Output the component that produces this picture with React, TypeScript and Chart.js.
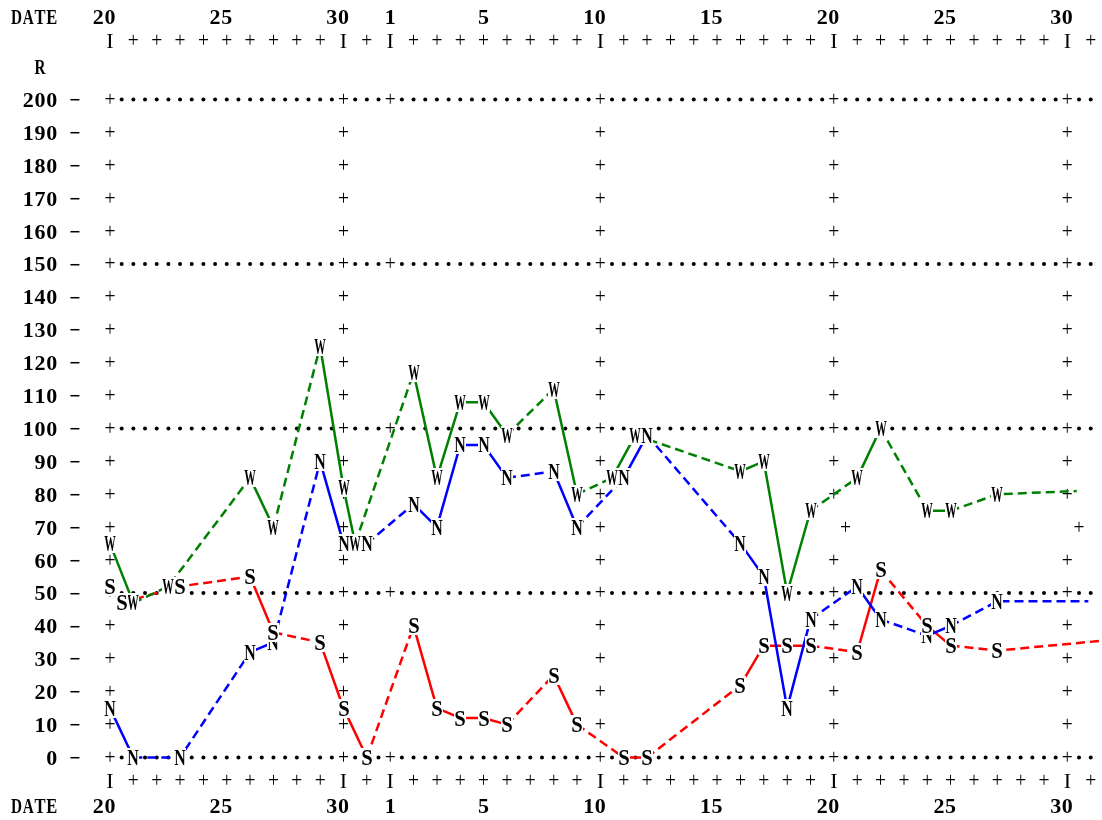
import React, { useEffect, useRef } from "react";
import { Chart, registerables } from "chart.js";

Chart.register(...registerables);

// ---- axis / tick text ----
const DATE_LABELS = ["20", "25", "30", "1", "5", "10", "15", "20", "25", "30"];
const DATE_LABEL_DAYS = [0, 5, 10, 12, 16, 21, 26, 31, 36, 41];
const MAJOR_TICK_DAYS = [0, 10, 12, 21, 31, 41];
const LAST_TICK_DAY = 42;
const R_TICKS = [200, 190, 180, 170, 160, 150, 140, 130, 120, 110, 100, 90, 80, 70, 60, 50, 40, 30, 20, 10, 0];
const DOTTED_ROWS = [0, 50, 100, 150, 200];
const GRID_COLUMNS = [0, 10, 21, 31, 41];
const DOTTED_ROW_EXTRA_COLUMN = 12;
const SHIFTED_ROW = 70;
const SHIFTED_ROW_COLUMNS = [0, 10, 21, 31.5, 41.5];

// ---- series (day index from the 20th, R value) ----
const W_DAY = [0, 1, 2.5, 6, 7, 9, 10, 10.5, 13, 14, 15, 16, 17, 19, 20, 21.5, 22.5, 27, 28, 29, 30, 32, 33, 35, 36, 38, 41.4];
const W_R = [65, 47, 52, 85, 70, 125, 82, 65, 117, 85, 108, 108, 98, 112, 80, 85, 98, 87, 90, 50, 75, 85, 100, 75, 75, 80, 81];

const N_DAY = [0, 1, 3, 6, 7, 9, 10, 11, 13, 14, 15, 16, 17, 19, 20, 22, 23, 27, 28, 29, 30, 32, 33, 35, 36, 38, 41.9];
const N_R = [15, 0, 0, 32, 35, 90, 65, 65, 77, 70, 95, 95, 85, 87, 70, 85, 98, 65, 55, 15, 42, 52, 42, 37, 40, 47.5, 47.5];

const S_DAY = [0, 0.5, 3, 6, 7, 9, 10, 11, 13, 14, 15, 16, 17, 19, 20, 22, 23, 27, 28, 29, 30, 32, 33, 35, 36, 38, 42.5];
const S_R = [52, 47, 52, 55, 38, 35, 15, 0, 40, 15, 12, 12, 10, 25, 10, 0, 0, 22, 34, 34, 34, 32, 57, 40, 34, 32.5, 35.5];

const FONT = 'bold 22px "Liberation Serif", "Times New Roman", serif';
const THIN_FONT = '22px "Liberation Serif", "Times New Roman", serif';
const LETTER_FONT = 'bold 24px "Liberation Serif", "Times New Roman", serif';

function pts(days: number[], vals: number[]) {
  return days.map((d, i) => ({ x: d, y: vals[i] }));
}

function letterCanvas(ch: string) {
  const c = document.createElement("canvas");
  c.width = 12;
  c.height = 19;
  const g = c.getContext("2d")!;
  g.fillStyle = "#ffffff";
  g.fillRect(0, 0, 12, 19);
  g.fillStyle = "#000000";
  g.font = LETTER_FONT;
  g.textAlign = "center";
  g.textBaseline = "alphabetic";
  g.fillText(ch, 6, 17.4, 11.5);
  return c;
}

function glyph(ctx: CanvasRenderingContext2D, ch: string, px: number, py: number) {
  const thin = ch === "+" || ch === "I";
  ctx.font = thin ? THIN_FONT : FONT;
  const lift = ch === "+" ? 6.4 : ch === "\u2212" ? 7.6 : 7.4;
  ctx.fillText(ch, px, py + lift, 11);
}

function rightText(ctx: CanvasRenderingContext2D, xs: any, text: string, lastDay: number, py: number) {
  const n = text.length;
  for (let j = 0; j < n; j++) {
    const d = lastDay - 0.5 * (n - 1 - j);
    glyph(ctx, text[j], xs.getPixelForValue(d), py);
  }
}

const charGrid = {
  id: "charGrid",
  beforeDatasetsDraw(chart: any) {
    const { ctx, scales } = chart;
    const xs = scales.x;
    const ys = scales.y;
    ctx.save();
    ctx.fillStyle = "#000";
    ctx.textAlign = "center";
    ctx.textBaseline = "alphabetic";

    // dotted rows
    for (const v of DOTTED_ROWS) {
      const py = ys.getPixelForValue(v);
      for (let k = 1; k <= 2 * LAST_TICK_DAY; k++) {
        const d = k / 2;
        if (GRID_COLUMNS.includes(d) || d === DOTTED_ROW_EXTRA_COLUMN) continue;
        const px = xs.getPixelForValue(d);
        ctx.beginPath();
        ctx.arc(px, py, 2, 0, Math.PI * 2);
        ctx.fill();
      }
    }
    // plus grid and R labels
    for (const v of R_TICKS) {
      const py = ys.getPixelForValue(v);
      const cols = v === SHIFTED_ROW ? SHIFTED_ROW_COLUMNS : GRID_COLUMNS;
      for (const d of cols) glyph(ctx, "+", xs.getPixelForValue(d), py);
      if (DOTTED_ROWS.includes(v)) glyph(ctx, "+", xs.getPixelForValue(DOTTED_ROW_EXTRA_COLUMN), py);
      rightText(ctx, xs, String(v), -2.5, py);
      glyph(ctx, "\u2212", xs.getPixelForValue(-1.5), py);
    }
    glyph(ctx, "R", xs.getPixelForValue(-3), ys.getPixelForValue(210));

    // date rows
    const rows = [
      { label: 17, tick: 41 },
      { label: 806, tick: 781 },
    ];
    for (const r of rows) {
      rightText(ctx, xs, "DATE", -2.5, r.label);
      DATE_LABELS.forEach((t, i) => rightText(ctx, xs, t, DATE_LABEL_DAYS[i], r.label));
      for (let d = 0; d <= LAST_TICK_DAY; d++) {
        glyph(ctx, MAJOR_TICK_DAYS.includes(d) ? "I" : "+", xs.getPixelForValue(d), r.tick);
      }
    }
    ctx.restore();
    // keep letter markers crisp when drawn at fractional positions
    ctx.imageSmoothingEnabled = false;
  },
};

export default function App() {
  const ref = useRef<HTMLCanvasElement | null>(null);

  useEffect(() => {
    if (!ref.current) return;
    const dash = (c: any) => (c.p1.parsed.x - c.p0.parsed.x > 1.01 ? [9, 5] : undefined);
    const series = [
      { name: "W", days: W_DAY, vals: W_R, color: "#008000", order: 3 },
      { name: "N", days: N_DAY, vals: N_R, color: "#0000ff", order: 2 },
      { name: "S", days: S_DAY, vals: S_R, color: "#ff0000", order: 1 },
    ];
    const datasets: any[] = [];
    for (const s of series) {
      datasets.push({
        label: s.name + " line",
        data: pts(s.days, s.vals),
        borderColor: s.color,
        borderWidth: 2.5,
        pointRadius: 0,
        fill: false,
        tension: 0,
        segment: { borderDash: dash },
        order: 10,
      });
    }
    for (const s of series) {
      datasets.push({
        label: s.name,
        data: pts(s.days, s.vals).slice(0, -1),
        showLine: false,
        pointStyle: letterCanvas(s.name),
        pointRadius: 6,
        order: s.order,
      });
    }
    const pxPerDay = 23.35;
    const pxPerR = 3.29;
    const chart = new Chart(ref.current, {
      type: "line",
      data: { datasets },
      options: {
        animation: false,
        responsive: false,
        devicePixelRatio: 1,
        events: [],
        layout: { padding: 0, autoPadding: false },
        plugins: { legend: { display: false }, tooltip: { enabled: false } },
        scales: {
          x: { type: "linear", display: false, min: -110 / pxPerDay, max: (1102 - 110) / pxPerDay },
          y: { type: "linear", display: false, min: -(820 - 757.5) / pxPerR, max: -(820 - 757.5) / pxPerR + 820 / pxPerR },
        },
      },
      plugins: [charGrid],
    });
    return () => chart.destroy();
  }, []);

  return (
    <div style={{ position: "fixed", left: 0, top: 0, width: 1102, height: 820, background: "#fff" }}>
      <canvas ref={ref} width={1102} height={820} style={{ display: "block" }} />
    </div>
  );
}
